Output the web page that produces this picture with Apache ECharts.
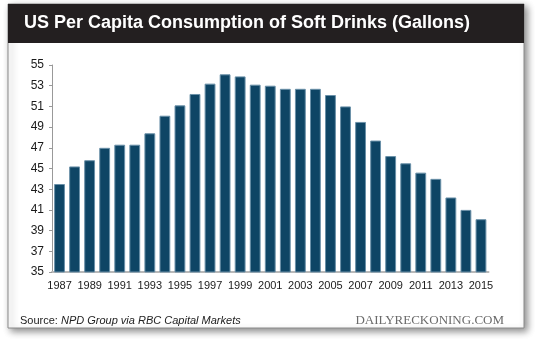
<!DOCTYPE html>
<html>
<head>
<meta charset="utf-8">
<script src="https://cdn.jsdelivr.net/npm/echarts@6/dist/echarts.min.js"></script>
<style>
html,body{margin:0;padding:0;background:#fff;}
#chart{width:540px;height:339px;}
</style>
</head>
<body>
<div id="chart"></div>
<script>
var years = ['1987','1988','1989','1990','1991','1992','1993','1994','1995','1996','1997','1998','1999','2000','2001','2002','2003','2004','2005','2006','2007','2008','2009','2010','2011','2012','2013','2014','2015'];
var gallons = [43.5,45.2,45.8,47.0,47.3,47.3,48.4,50.1,51.1,52.2,53.2,54.1,53.9,53.1,53.0,52.7,52.7,52.7,52.1,51.0,49.5,47.7,46.2,45.5,44.6,44.0,42.2,41.0,40.1];
var yTicks = {min:35, max:55, step:2};
var titleText = 'US Per Capita Consumption of Soft Drinks (Gallons)';
var sourceLabel = 'Source: ';
var sourceText = 'NPD Group via RBC Capital Markets';
var brandText = 'DAILYRECKONING.COM';

var chart = echarts.init(document.getElementById('chart'), null, {renderer:'canvas'});
chart.setOption({
  animation:false,
  backgroundColor:'#fff',
  graphic:[
    {type:'rect', z:-10, shape:{x:8,y:4,width:516,height:324},
     style:{fill:'#fff', stroke:'#8a8a8a', lineWidth:1, shadowColor:'rgba(0,0,0,0.45)', shadowBlur:7, shadowOffsetX:3, shadowOffsetY:3}},
    {type:'rect', z:-9, shape:{x:8,y:4,width:516,height:39}, style:{fill:'#231f20'}},
    {type:'text', z:10, left:24, top:14, style:{text:titleText, fill:'#fff', font:'bold 18px "Liberation Sans", Arial, sans-serif'}},
    {type:'text', z:10, left:20, top:315, style:{
      text:'{a|'+sourceLabel+'}{b|'+sourceText+'}',
      rich:{a:{fontSize:11, fontFamily:'"Liberation Sans", Arial, sans-serif', fill:'#222', color:'#222'},
            b:{fontSize:11, fontStyle:'italic', fontFamily:'"Liberation Sans", Arial, sans-serif', fill:'#222', color:'#222'}}}},
    {type:'text', z:10, right:36, top:314, style:{text:brandText, fill:'#6a6a6a', font:'13px "Liberation Serif", "DejaVu Serif", serif'}}
  ],
  grid:{left:52, right:51.5, top:65, height:207, containLabel:false},
  xAxis:{
    type:'category', data:years,
    axisLine:{show:true, lineStyle:{color:'#b8b8b8', width:2}},
    axisTick:{show:false},
    axisLabel:{interval:1, color:'#1a1a1a', fontSize:11, fontFamily:'"Liberation Sans", Arial, sans-serif', margin:8}
  },
  yAxis:{
    type:'value', min:yTicks.min, max:yTicks.max, interval:yTicks.step,
    splitLine:{show:false},
    axisLine:{show:true, lineStyle:{color:'#999', width:1}},
    axisTick:{show:true, length:3, lineStyle:{color:'#999'}},
    axisLabel:{color:'#1a1a1a', fontSize:12, fontFamily:'"Liberation Sans", Arial, sans-serif', margin:8}
  },
  series:[{
    type:'bar', data:gallons, barWidth:'72%',
    itemStyle:{color:'#0e4565', borderColor:'#6a90a8', borderWidth:1}
  }]
});
</script>
</body>
</html>
